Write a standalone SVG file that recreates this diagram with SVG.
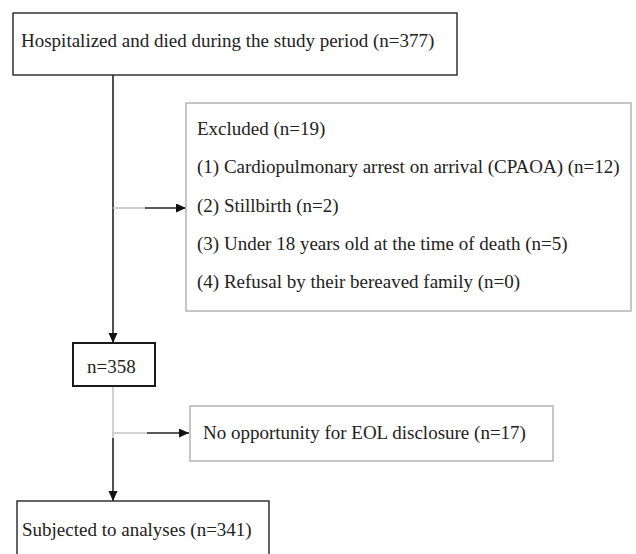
<svg xmlns="http://www.w3.org/2000/svg" width="636" height="554" viewBox="0 0 636 554">
<defs>
<style>
text{font-family:"Liberation Serif","Times New Roman",serif;font-size:19px;fill:#222}
.dark{fill:#fff;stroke:#333;stroke-width:1.5}
.light{fill:#fff;stroke:#b4b4b4;stroke-width:1.5}
.blk{fill:#fff;stroke:#1a1a1a;stroke-width:2}
.c{stroke:#222;stroke-width:1.6;fill:none}
.g{stroke:#c4c4c4;stroke-width:1.6;fill:none}
</style>
<marker id="ah" markerUnits="userSpaceOnUse" markerWidth="11" markerHeight="10" refX="10" refY="4.5" orient="auto">
<path d="M0,0 L10,4.5 L0,9 Z" fill="#111"/>
</marker>
</defs>
<rect width="636" height="554" fill="#fff"/>
<g id="connectors">
<line class="c" x1="113" y1="75" x2="113" y2="343" marker-end="url(#ah)"/>
<line class="g" x1="113" y1="208" x2="145" y2="208"/>
<line class="c" x1="145" y1="208" x2="186" y2="208" marker-end="url(#ah)"/>
<line class="g" x1="113" y1="386" x2="113" y2="438"/>
<line class="g" x1="113" y1="433" x2="147" y2="433"/>
<line class="c" x1="147" y1="433" x2="189" y2="433" marker-end="url(#ah)"/>
<line class="c" x1="113" y1="438" x2="113" y2="501" marker-end="url(#ah)"/>
</g>
<g id="node-hospitalized">
<rect class="dark" x="13" y="13" width="444" height="62"/>
<text x="21" y="47">Hospitalized and died during the study period (n=377)</text>
</g>
<g id="node-excluded">
<rect class="light" x="186" y="103" width="445" height="208"/>
<text x="197" y="135">Excluded (n=19)</text>
<text x="197" y="173">(1) Cardiopulmonary arrest on arrival (CPAOA) (n=12)</text>
<text x="197" y="212">(2) Stillbirth (n=2)</text>
<text x="197" y="250">(3) Under 18 years old at the time of death (n=5)</text>
<text x="197" y="288">(4) Refusal by their bereaved family (n=0)</text>
</g>
<g id="node-n358">
<rect class="blk" x="73" y="343" width="82" height="43"/>
<text x="87" y="373">n=358</text>
</g>
<g id="node-noopp">
<rect class="light" x="190" y="406" width="363" height="55"/>
<text x="203" y="439">No opportunity for EOL disclosure (n=17)</text>
</g>
<g id="node-subjected">
<rect class="dark" x="17" y="501" width="252" height="70"/>
<text x="22" y="536">Subjected to analyses (n=341)</text>
</g>
</svg>
